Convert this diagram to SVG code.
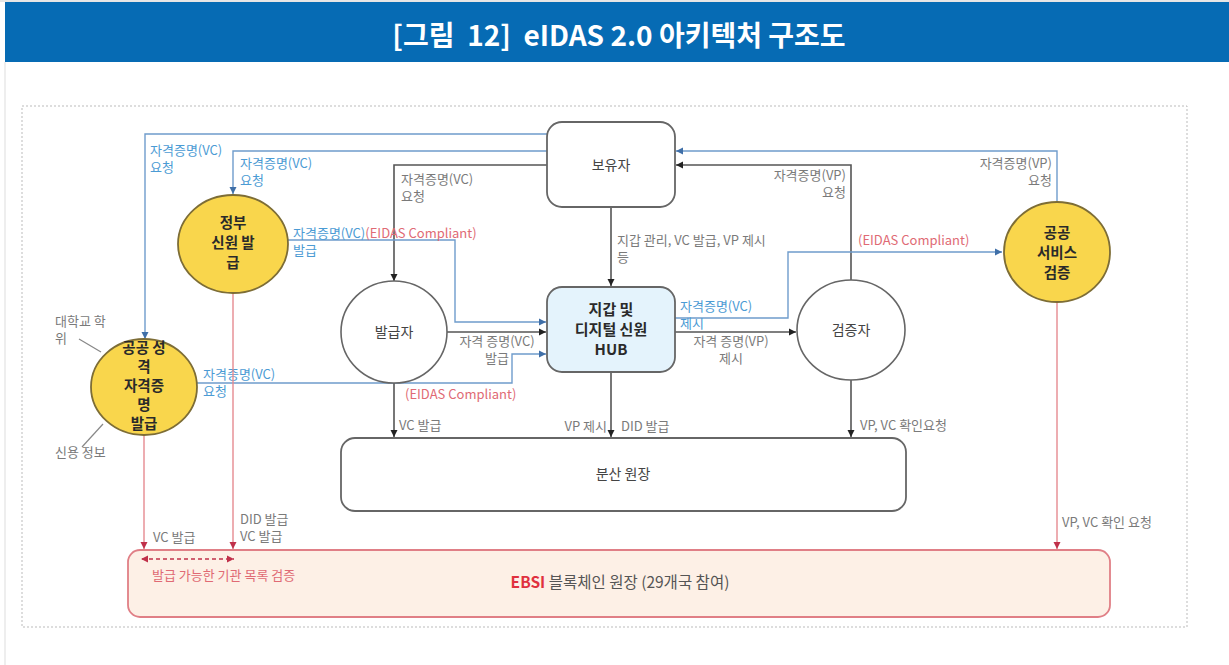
<svg xmlns="http://www.w3.org/2000/svg" width="1229" height="665" viewBox="0 0 1229 665">
<style>
text{font-family:"Noto Sans CJK KR","Noto Sans",sans-serif}
.t{font-size:13px;fill:#7a7a7a}
.b{font-size:13px;fill:#4b9bd4}
.r{font-size:13px;fill:#e06a74}
.n{font-size:14px;fill:#444;text-anchor:middle}
.nb{font-size:14.5px;fill:#2a2a2a;text-anchor:middle;font-weight:bold}
.g{fill:none;stroke:#555;stroke-width:1.6}
.bl{fill:none;stroke:#6f9ccc;stroke-width:1.4}
.rd{fill:none;stroke:#e58a90;stroke-width:1.4}
.box{fill:#fff;stroke:#666;stroke-width:1.8}
.yel{fill:#f9d64c;stroke:#7d6d36;stroke-width:1.8}
.cir{fill:#fff;stroke:#666;stroke-width:1.6}
</style>
<defs>
<marker id="ag" markerWidth="8" markerHeight="8" refX="7" refY="4" orient="auto" markerUnits="userSpaceOnUse"><path d="M0,0.5 L7,4 L0,7.5z" fill="#222"/></marker>
<marker id="ab" markerWidth="8" markerHeight="8" refX="7" refY="4" orient="auto" markerUnits="userSpaceOnUse"><path d="M0,0.5 L7,4 L0,7.5z" fill="#3f6fa8"/></marker>
<marker id="ar" markerWidth="8" markerHeight="8" refX="7" refY="4" orient="auto" markerUnits="userSpaceOnUse"><path d="M0,0.5 L7,4 L0,7.5z" fill="#c0304a"/></marker>
<marker id="arS" markerWidth="8" markerHeight="8" refX="1" refY="4" orient="auto" markerUnits="userSpaceOnUse"><path d="M7,0.5 L0,4 L7,7.5z" fill="#c0304a"/></marker>
</defs>
<rect width="1229" height="665" fill="#fff"/>
<line x1="0" y1="1" x2="1229" y2="1" stroke="#ccc"/>
<rect x="5" y="2" width="1224" height="60" fill="#066bb4"/>
<line x1="5" y1="62" x2="5" y2="665" stroke="#ddd"/>
<text x="619" y="46" text-anchor="middle" style="font-size:28px;font-weight:bold;fill:#fff" xml:space="preserve">[그림  12]  eIDAS 2.0 아키텍처 구조도</text>
<rect x="22" y="106" width="1165" height="521" fill="none" stroke="#bbb" stroke-dasharray="2,2"/>

<g id="connectors">
<path class="bl" d="M547,134 H145 V339" marker-end="url(#ab)"/>
<text class="b" x="150" y="155">자격증명(VC)<tspan x="150" dy="17">요청</tspan></text>
<path class="bl" d="M547,151 H233 V194" marker-end="url(#ab)"/>
<text class="b" x="240" y="168">자격증명(VC)<tspan x="240" dy="17">요청</tspan></text>
<path class="g" d="M547,165 H394 V281" marker-end="url(#ag)"/>
<text class="t" x="401" y="184">자격증명(VC)<tspan x="401" dy="17">요청</tspan></text>
<path class="g" d="M611,207 V286" marker-end="url(#ag)"/>
<text class="t" x="617" y="245">지갑 관리, VC 발급, VP 제시<tspan x="617" dy="17">등</tspan></text>
<path class="g" d="M851,282 V165 H676" marker-end="url(#ag)"/>
<text class="t" x="846" y="180" text-anchor="end">자격증명(VP)<tspan x="846" dy="17">요청</tspan></text>
<path class="bl" d="M1057,202 V151 H676" marker-end="url(#ab)"/>
<text class="t" x="1052" y="168" text-anchor="end">자격증명(VP)<tspan x="1052" dy="17">요청</tspan></text>
<path class="bl" d="M288,240 H455 V322 H546" marker-end="url(#ab)"/>
<text x="293" y="238" style="font-size:13px"><tspan fill="#4b9bd4">자격증명(VC)</tspan><tspan fill="#e06a74">(EIDAS Compliant)</tspan><tspan x="293" dy="17" fill="#4b9bd4">발급</tspan></text>
<path class="g" d="M446,332 H546" marker-end="url(#ag)"/>
<text class="t" x="497" y="346" text-anchor="middle">자격 증명(VC)<tspan x="497" dy="17">발급</tspan></text>
<path class="bl" d="M197,383 H512 V354 H546" marker-end="url(#ab)"/>
<text class="b" x="203" y="379">자격증명(VC)<tspan x="203" dy="17">요청</tspan></text>
<text class="r" x="405" y="399">(EIDAS Compliant)</text>
<path class="g" d="M394,383 V437" marker-end="url(#ag)"/>
<text class="t" x="399" y="430">VC 발급</text>
<path class="g" d="M611,372 V437" marker-end="url(#ag)"/>
<text class="t" x="607" y="431" text-anchor="end">VP 제시</text><text class="t" x="621" y="431">DID 발급</text>
<path class="g" d="M851,380 V437" marker-end="url(#ag)"/>
<text class="t" x="860" y="430">VP, VC 확인요청</text>
<path class="g" d="M675,332 H796" marker-end="url(#ag)"/>
<text class="t" x="731" y="346" text-anchor="middle">자격 증명(VP)<tspan x="731" dy="17">제시</tspan></text>
<path class="bl" d="M675,318 H788 V252 H1002" marker-end="url(#ab)"/>
<text class="b" x="680" y="311">자격증명(VC)<tspan x="680" dy="17">제시</tspan></text>
<text class="r" x="858" y="245">(EIDAS Compliant)</text>
<path class="rd" d="M144,435 V549" marker-end="url(#ar)"/>
<text class="t" x="153" y="542">VC 발급</text>
<path class="rd" d="M233,293 V549" marker-end="url(#ar)"/>
<text class="t" x="240" y="524">DID 발급<tspan x="240" dy="17">VC 발급</tspan></text>
<path class="rd" d="M1057,302 V549" marker-end="url(#ar)"/>
<text class="t" x="1062" y="527">VP, VC 확인 요청</text>
<line x1="79" y1="339" x2="101" y2="352" stroke="#888" stroke-width="1.2"/>
<text class="t" x="55" y="326">대학교 학<tspan x="55" dy="17">위</tspan></text>
<line x1="82" y1="447" x2="103" y2="424" stroke="#888" stroke-width="1.2"/>
<text class="t" x="55" y="457">신용 정보</text>
</g>

<g id="node-holder"><rect class="box" x="547" y="122" width="128" height="85" rx="15"/><text class="n" x="611" y="170">보유자</text></g>
<g id="node-hub"><rect x="547" y="287" width="128" height="85" rx="15" fill="#e4f3fc" stroke="#666" stroke-width="1.8"/>
<text class="nb" x="611" y="315" style="font-size:15px">지갑 및<tspan x="611" dy="20">디지털 신원</tspan><tspan x="611" dy="20">HUB</tspan></text></g>
<g id="node-issuer"><ellipse class="cir" cx="394" cy="332" rx="53" ry="51"/><text class="n" x="394" y="337">발급자</text></g>
<g id="node-verifier"><ellipse class="cir" cx="851" cy="330" rx="54" ry="50"/><text class="n" x="851" y="335">검증자</text></g>
<g id="node-ledger"><rect class="box" x="341" y="438" width="565" height="73" rx="14"/><text class="n" x="623" y="479">분산 원장</text></g>
<g id="node-gov"><ellipse class="yel" cx="233" cy="244" rx="55" ry="49"/>
<text class="nb" x="233" y="228">정부<tspan x="233" dy="20">신원 발</tspan><tspan x="233" dy="20">급</tspan></text></g>
<g id="node-public-cred"><ellipse class="yel" cx="144" cy="387" rx="53" ry="48"/>
<text class="nb" x="144" y="353">공공 성<tspan x="144" dy="19">격</tspan><tspan x="144" dy="19">자격증</tspan><tspan x="144" dy="19">명</tspan><tspan x="144" dy="19">발급</tspan></text></g>
<g id="node-public-service"><ellipse class="yel" cx="1057" cy="252" rx="53" ry="50"/>
<text class="nb" x="1057" y="238">공공<tspan x="1057" dy="20">서비스</tspan><tspan x="1057" dy="20">검증</tspan></text></g>
<g id="node-ebsi"><rect x="128" y="550" width="982" height="67" rx="12" fill="#fdf0e6" stroke="#e07f86" stroke-width="1.8"/>
<line x1="142" y1="559" x2="234" y2="559" stroke="#c0304a" stroke-width="1.4" stroke-dasharray="4,3" marker-start="url(#arS)" marker-end="url(#ar)"/>
<text class="r" x="152" y="580">발급 가능한 기관 목록 검증</text>
<text x="620" y="588" text-anchor="middle" style="font-size:15.5px;fill:#555"><tspan fill="#e0303e" font-weight="bold">EBSI</tspan> 블록체인 원장 (29개국 참여)</text></g>
</svg>
